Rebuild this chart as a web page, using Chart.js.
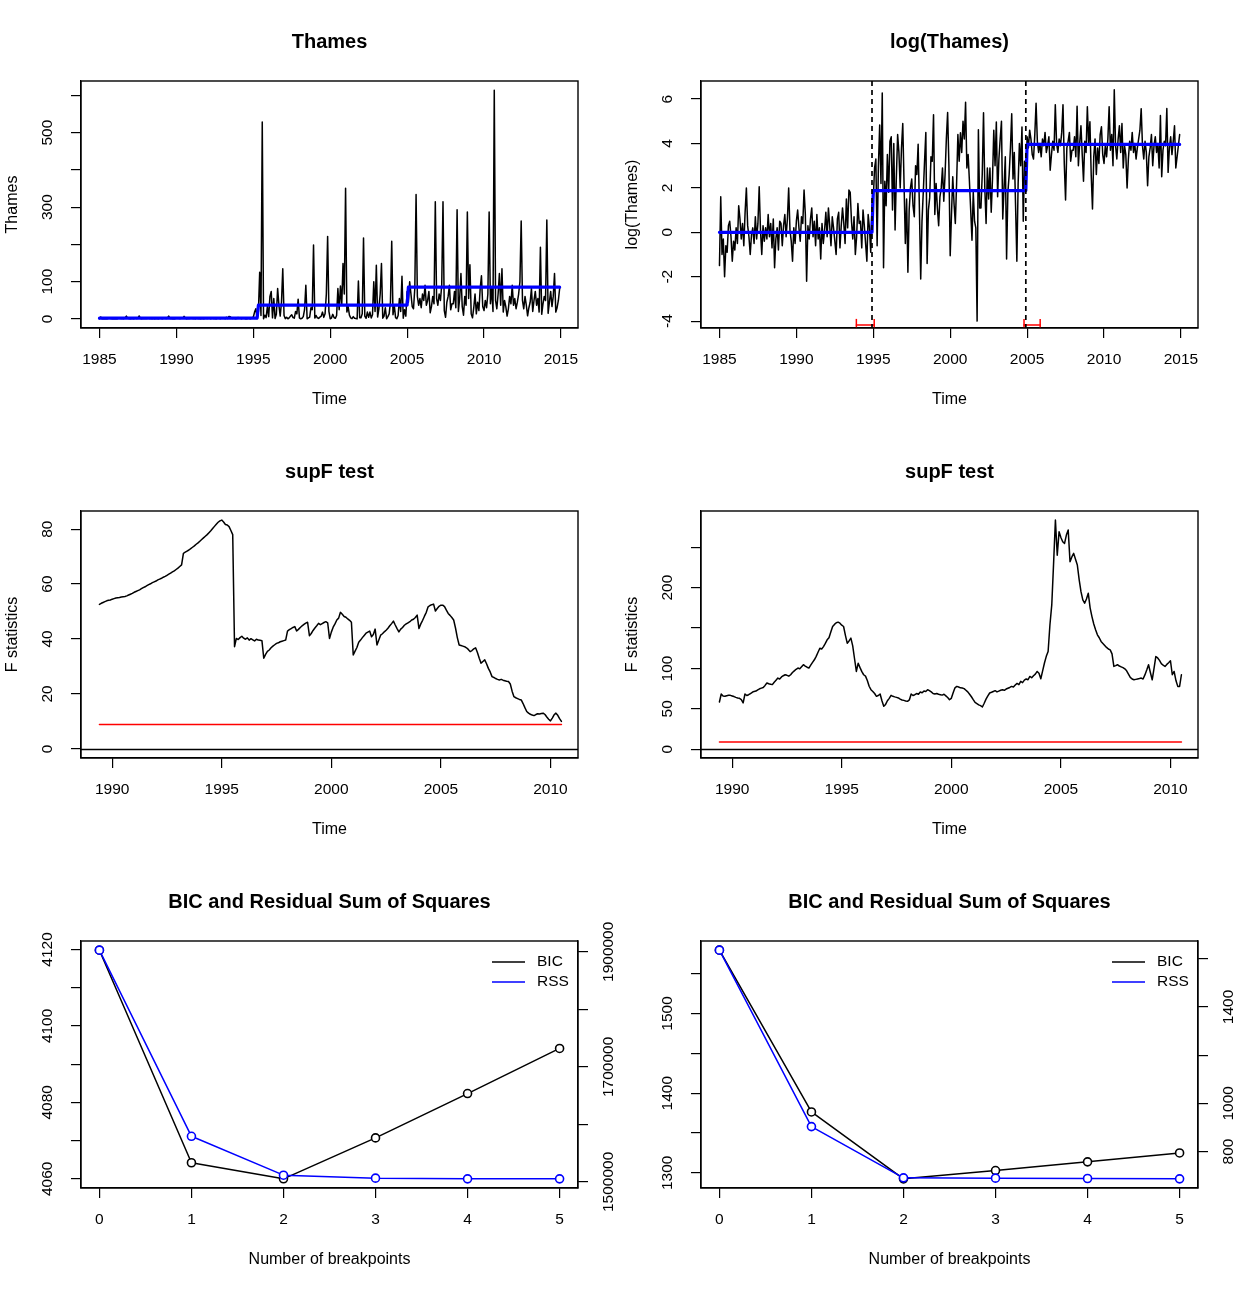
<!DOCTYPE html>
<html><head><meta charset="utf-8">
<script src="https://cdn.jsdelivr.net/npm/chart.js@4.4.1/dist/chart.umd.min.js"></script>
<style>
html,body{margin:0;padding:0;background:#fff;}
#wrap{position:relative;width:1240px;height:1290px;background:#fff;}
canvas{position:absolute;}
</style></head><body><div id="wrap">
<canvas id="c1" width="620" height="430" style="left:0;top:0;width:620px;height:430px"></canvas>
<canvas id="c2" width="620" height="430" style="left:620px;top:0;width:620px;height:430px"></canvas>
<canvas id="c3" width="620" height="430" style="left:0;top:430px;width:620px;height:430px"></canvas>
<canvas id="c4" width="620" height="430" style="left:620px;top:430px;width:620px;height:430px"></canvas>
<canvas id="c5" width="620" height="430" style="left:0;top:860px;width:620px;height:430px"></canvas>
<canvas id="c6" width="620" height="430" style="left:620px;top:860px;width:620px;height:430px"></canvas>
</div>
<script>
// ---------------- DATA ----------------
const seriesStart = 1985; // monthly series, first month
const logThames = [
 -1.5, 1.6,-1.0,-0.3,-2.0,-0.6,-0.9, 0.3, 0.5,-0.2,-1.3,-0.4,
 -0.8, 0.2,-0.5, 1.2, 0.6,-0.3, 0.4,-0.6, 0.9, 2.0, 0.3,-0.2,
 -1.0,-0.1, 0.2,-0.5, 0.7,-0.3, 0.4, 2.05,0.1,-1.0, 0.3,-0.4,
  0.2,-0.3, 0.8,-0.2, 0.4,-0.7, 0.6,-1.6,-0.3, 0.2,-0.8, 0.5,
  0.4,-0.6, 0.3, 0.8,-0.2, 0.6, 2.0, 0.1,-0.4,-1.3, 0.2,-0.5,
  0.5, 1.0, 0.2,-0.4, 0.7, 0.4, 1.9, 0.8,-2.2, 0.3,-0.3, 0.6,
  1.1,-0.2, 0.5,-0.6, 0.8,-0.3, 0.2,-1.2, 0.4,-0.5, 0.1, 0.9,
 -0.2, 1.1, 0.3,-0.6, 0.7, 0.2,-0.4,-1.0, 0.6, 0.9,-0.7, 0.3,
  1.1, 0.4,-0.5, 1.5, 0.2, 1.9, 1.8, 0.5,-0.3, 0.7,-1.0,-0.2,
  1.3, 0.4, 0.5,-0.7, 1.0, 0.3,-0.5,-1.3, 0.8, 0.2,-0.9, 1.2,
  1.5, 2.9, 3.3,-0.6, 3.0, 4.83,2.2, 6.27,-1.6,2.3, 1.2, 3.5,
  1.8, 4.1, 4.3, 1.0, 4.0, 0.1, 2.5, 4.4, 3.6, 2.0, 3.8, 4.9,
  2.2,-0.5, 1.5,-1.8, 1.0, 2.0, 2.4, 1.2, 0.7, 3.0, 2.6, 3.97,
  1.0,-2.1, 0.5, 1.8, 3.2, 4.5,-1.4, 1.0, 1.55,3.4, 3.2, 5.29,
  0.8, 2.2, 1.1, 0.3, 1.6, 2.0, 2.9, 1.4, 2.6, 4.2, 5.4, 3.0,
 -1.06,0.8, 2.5, 1.3, 0.4, 2.2, 4.4, 3.2, 4.48,3.6, 5.0, 4.2,
  5.86,2.9, 3.5, 2.3, 1.0,-0.36,1.8, 0.5, 0.2,-4.0, 4.62,1.1,
  1.1, 2.6, 5.38,2.0, 0.4, 2.9, 1.5, 2.9, 0.9, 2.4, 4.6, 3.0,
  4.97,1.6, 3.3, 4.2, 5.0, 0.6, 2.0, 3.4,-1.2, 1.8, 2.6, 3.8,
  5.34,2.4, 3.6, 1.2,-1.3, 2.2, 4.0, 3.0, 4.74,0.5, 3.2, 2.0,
  4.3, 3.8, 4.6, 4.2, 3.5, 3.3, 4.4, 5.81,4.1, 3.6, 4.0, 3.4,
  4.2, 3.9, 4.5, 3.6, 3.9, 4.3, 2.8, 3.5, 4.1, 3.7, 5.75,4.0,
  3.6, 4.2, 3.9, 4.5, 5.75,3.1, 1.46,3.8, 4.1, 4.5, 3.2, 3.7,
  3.7, 4.3, 3.4, 5.68,3.0, 4.0, 4.8, 3.5, 2.3, 4.1, 3.6, 5.66,
  4.0, 4.98,2.6, 1.05,3.4, 4.2, 2.6, 3.8, 3.1, 4.4, 4.75,3.5,
  3.1, 3.9, 3.4, 4.2, 5.66,3.7, 4.4, 3.0, 6.42,3.9, 3.3, 4.2,
  4.8, 3.6, 4.9, 2.9, 3.9, 3.5, 2.0, 3.3, 4.1, 3.7, 4.5, 3.6,
  4.0, 3.3, 3.8, 4.2, 4.6, 5.57,3.9, 3.3, 4.1, 3.6, 2.1, 3.4,
  3.8, 4.4, 3.0, 3.9, 4.3, 3.6, 4.0, 2.9, 5.26,2.5, 3.7, 4.1,
  3.9, 5.58,2.7, 3.8, 4.3, 3.5, 4.1, 4.8, 2.9, 3.4, 3.9, 4.4
];
const thames = logThames.map(v => Math.exp(v));

const thamesFitLevels = [1.8, 37, 85];
const thamesSegEnds = [123, 240];          // last month index of segments 1 and 2
const logFitLevels = [0.0, 1.88, 3.96];
const logSegEnds = [119, 239];
const logBreakDates = [1994.917, 2004.917];
const logCiLow  = [1993.9, 2004.8];
const logCiHigh = [1995.06, 2005.85];
const logCiLevel = -4.17;

const fStart = 1989.417;  // monthly F statistics
const fThames = [
 52.6,53.0,53.3,53.6,53.9,54.1,54.2,54.5,
 54.7,54.9,55.0,55.1,55.3,55.4,55.5,55.7,56.0,56.3,56.6,57.0,
 57.3,57.6,57.9,58.3,58.7,59.0,59.4,59.8,60.1,60.5,60.8,61.1,
 61.5,61.8,62.1,62.5,62.8,63.2,63.6,64.0,64.4,64.8,65.3,65.8,
 66.4,67.0,71.2,71.6,72.0,72.4,72.9,73.4,73.9,74.5,75.0,75.6,
 76.2,76.8,77.4,78.0,78.7,79.4,80.2,81.0,81.8,82.5,83.0,83.3,
 82.6,81.7,81.5,80.9,79.5,78.0,37.2,40.2,39.8,40.5,41.0,40.3,
 39.9,40.4,39.6,40.1,39.7,39.3,39.9,39.6,39.5,39.4,33.0,34.4,
 35.5,36.0,36.8,37.4,37.9,38.4,38.6,39.0,39.2,39.4,39.6,42.9,
 43.4,43.8,44.2,44.5,42.9,43.5,44.2,44.8,45.3,45.8,46.1,41.2,
 42.0,43.1,44.0,44.8,45.7,45.2,45.6,46.0,46.3,45.9,40.2,42.5,
 44.3,45.5,46.9,47.6,49.7,49.0,48.2,47.9,47.3,46.8,46.1,34.2,
 35.6,36.9,38.8,39.6,40.5,41.3,42.1,42.5,42.9,40.8,41.6,43.6,
 37.8,39.6,41.4,41.9,42.6,43.2,43.9,44.8,45.6,46.5,45.1,43.8,
 42.6,43.6,44.2,45.0,45.5,45.9,46.3,46.9,47.2,47.8,48.7,43.8,
 45.5,46.8,48.3,49.7,51.7,52.2,52.5,52.7,50.2,51.1,51.9,52.3,
 52.3,51.8,50.5,49.3,48.6,47.8,46.9,44.0,40.5,37.8,37.6,37.4,
 37.2,36.8,36.2,35.4,35.8,36.4,36.8,35.1,33.0,31.2,31.8,32.4,
 31.0,29.3,28.0,26.3,26.0,25.6,25.3,25.1,25.3,25.0,24.8,24.6,
 24.5,23.6,21.0,19.0,18.6,18.3,18.0,17.8,16.5,15.0,13.6,13.0,
 12.6,12.3,12.1,12.5,12.8,12.7,12.9,13.0,12.5,11.6,10.8,10.2,
 11.2,12.4,13.0,12.2,11.0,10.0
];
const fLog = [
 58.5,68.4,66.0,65.5,66.2,66.8,66.7,66.0,
 65.2,64.2,63.5,63.0,61.5,57.3,68.4,66.5,67.5,69.0,70.5,71.6,
 72.0,73.5,74.8,75.7,76.5,79.0,82.0,81.0,80.5,80.0,83.0,85.5,
 88.1,87.0,89.5,91.0,92.2,91.5,90.5,92.2,95.0,97.0,99.0,100.5,
 99.5,102.0,104.6,103.0,101.5,100.5,104.0,107.5,110.7,115.0,120.0,125.0,
 124.0,127.0,131.0,135.4,138.0,145.0,151.9,154.5,156.5,157.3,156.0,153.5,
 151.9,141.0,131.3,134.0,137.5,128.0,112.0,96.3,106.5,101.0,96.0,92.2,
 90.5,85.0,78.0,73.7,71.5,69.0,65.5,66.5,68.4,60.0,53.1,55.5,
 60.0,63.0,66.7,65.5,64.8,64.2,63.5,62.0,61.0,60.5,59.8,59.3,
 61.0,68.4,66.5,67.5,69.0,68.0,70.8,70.0,72.0,71.5,73.7,72.5,
 71.0,69.0,68.4,69.0,68.0,67.5,67.0,68.0,66.0,64.0,61.4,63.0,
 70.0,76.0,77.8,77.0,76.0,75.7,75.0,73.0,71.0,68.0,65.0,61.4,
 58.0,56.5,55.0,54.0,52.3,57.0,62.0,66.0,69.6,70.5,71.5,72.5,
 71.0,72.0,73.0,73.7,73.0,74.5,75.5,76.5,77.8,77.0,79.5,81.5,
 80.0,84.0,82.5,85.5,87.0,86.0,90.1,88.5,91.0,93.0,96.3,94.0,
 87.3,97.0,106.7,115.0,121.0,154.0,178.6,230.0,283.6,240.0,269.0,262.0,
 256.8,254.7,265.0,271.2,232.0,238.0,242.4,235.0,228.0,210.0,195.0,184.8,
 180.7,186.0,193.0,175.0,164.2,155.0,148.0,141.6,138.0,133.4,131.0,128.5,
 126.0,124.0,123.0,118.0,102.5,103.5,104.6,103.0,102.0,101.0,99.5,97.0,
 93.0,89.0,87.0,86.0,86.5,87.0,87.5,88.1,87.0,92.0,98.0,104.6,
 95.0,86.0,100.0,114.8,113.0,110.0,106.0,104.0,102.5,105.0,107.0,109.5,
 92.2,96.3,85.0,77.8,77.8,92.2
];
const fCrit = 8.85;

const nBreaks   = [0, 1, 2, 3, 4, 5];
const bicThames = [4119.8, 4064.2, 4060.0, 4070.7, 4082.3, 4094.1];
const rssThames = [1902900, 1579200, 1511600, 1506400, 1505200, 1505200];
const bicLog    = [1579.4, 1376.4, 1292.5, 1302.9, 1313.8, 1325.0];
const rssLog    = [1635.7, 903.4, 690.8, 689.5, 688.0, 686.6];

// tick values and labels
const yearTicksA  = [1985, 1990, 1995, 2000, 2005, 2010, 2015];
const yearLabelsA = ['1985','1990','1995','2000','2005','2010','2015'];
const yearTicksB  = [1990, 1995, 2000, 2005, 2010];
const yearLabelsB = ['1990','1995','2000','2005','2010'];
const thamesTicks  = [0, 100, 200, 300, 400, 500, 600];
const thamesLabels = ['0','100','','300','','500',''];
const logTicks  = [-4, -2, 0, 2, 4, 6];
const logLabels = ['-4','-2','0','2','4','6'];
const fThTicks  = [0, 20, 40, 60, 80];
const fThLabels = ['0','20','40','60','80'];
const fLogTicks  = [0, 50, 100, 150, 200, 250];
const fLogLabels = ['0','50','100','','200',''];
const bicThTicks  = [4060, 4070, 4080, 4090, 4100, 4110, 4120];
const bicThLabels = ['4060','','4080','','4100','','4120'];
const rssThTicks  = [1500000, 1600000, 1700000, 1800000, 1900000];
const rssThLabels = ['1500000','','1700000','','1900000'];
const bicLgTicks  = [1300, 1350, 1400, 1450, 1500, 1550];
const bicLgLabels = ['1300','','1400','','1500',''];
const rssLgTicks  = [800, 1000, 1200, 1400, 1600];
const rssLgLabels = ['800','1000','','1400',''];
const bpTicks  = [0, 1, 2, 3, 4, 5];
const bpLabels = ['0','1','2','3','4','5'];

// ---------------- HELPERS ----------------
const FONT = "'Liberation Sans', Arial, Helvetica, sans-serif";
const TICK_SIZE = 15.5, LAB_SIZE = 16;
Chart.defaults.font.family = FONT;
Chart.defaults.color = '#000';

const mctx = document.createElement('canvas').getContext('2d');
function widest(labels) {
  mctx.font = TICK_SIZE + 'px ' + FONT;
  return Math.max(...labels.map(l => mctx.measureText(l).width));
}
function monthTimes(start, n) { return Array.from({length: n}, (_, i) => start + i / 12); }
function pts(xs, ys) { return ys.map((y, i) => ({x: xs[i], y})); }
function stepFit(xs, levels, ends) {
  return xs.map((x, i) => ({x, y: levels[i <= ends[0] ? 0 : (i <= ends[1] ? 1 : 2)]}));
}

const gridOpts = {display: true, drawOnChartArea: false, drawTicks: true, tickLength: 10, color: '#000', lineWidth: 1.2};
const borderOpts = {display: true, color: '#000', width: 1.2};

function xScale(min, max, ticks, labels, title) {
  return {
    type: 'linear', position: 'bottom', min, max,
    afterBuildTicks: s => { s.ticks = ticks.map(v => ({value: v})); },
    afterFit: s => { s.height = 102; },
    ticks: {autoSkip: false, minRotation: 0, maxRotation: 0, padding: 12.5,
      color: '#000', font: {size: TICK_SIZE}, callback: (v, i) => labels[i]},
    grid: gridOpts, border: borderOpts,
    title: {display: true, text: title, color: '#000', font: {size: LAB_SIZE}, padding: {top: 0, bottom: 20.6}}
  };
}
function yScale(pos, min, max, ticks, labels, title) {
  const off = pos === 'left' ? 33.5 : 31;
  return {
    type: 'linear', position: pos, min, max,
    afterBuildTicks: s => { s.ticks = ticks.map(v => ({value: v})); },
    afterFit: s => { s.width = pos === 'left' ? 81 : 42; },
    ticks: {autoSkip: false, minRotation: 90, maxRotation: 90, crossAlign: 'center',
      padding: off - 10 - widest(labels) / 2,
      color: '#000', font: {size: TICK_SIZE}, callback: (v, i) => labels[i]},
    grid: Object.assign({}, gridOpts), border: borderOpts,
    title: {display: !!title, text: title || '', color: '#000', font: {size: LAB_SIZE}, padding: {top: 3.2, bottom: 0}}
  };
}

const panelPlugin = {
  id: 'panel',
  afterDatasetsDraw(chart, args, o) {
    const {ctx, chartArea: a, scales} = chart;
    ctx.save();
    ctx.beginPath(); ctx.rect(a.left, a.top, a.right - a.left, a.bottom - a.top); ctx.clip();
    ctx.strokeStyle = '#000'; ctx.lineWidth = 1.4;
    (o.hlines || []).forEach(v => {
      const y = Math.round(scales.y.getPixelForValue(v)) + 0.5;
      ctx.beginPath(); ctx.moveTo(a.left, y); ctx.lineTo(a.right, y); ctx.stroke();
    });
    (o.vlines || []).forEach(v => {
      const x = scales.x.getPixelForValue(v);
      ctx.setLineDash([5, 4]); ctx.lineWidth = 1.7;
      ctx.beginPath(); ctx.moveTo(x, a.top); ctx.lineTo(x, a.bottom); ctx.stroke();
      ctx.setLineDash([]);
    });
    ctx.restore();
    ctx.save();
    ctx.strokeStyle = '#000'; ctx.lineWidth = 1.4;
    ctx.strokeRect(a.left, a.top, a.right - a.left, a.bottom - a.top);
    if (o.legend) {
      ctx.font = TICK_SIZE + 'px ' + FONT; ctx.textBaseline = 'middle'; ctx.textAlign = 'left';
      o.legend.forEach((it, k) => {
        const y = a.top + 21 + k * 20;
        ctx.strokeStyle = it.color; ctx.lineWidth = 1.5;
        ctx.beginPath(); ctx.moveTo(a.right - 86, y); ctx.lineTo(a.right - 53, y); ctx.stroke();
        ctx.fillStyle = '#000'; ctx.fillText(it.text, a.right - 41, y);
      });
    }
    ctx.restore();
  }
};

function titleOpts(text) {
  return {display: true, text, fullSize: false, color: '#000',
    font: {size: 20, weight: 'bold'}, padding: {top: 30, bottom: 27}};
}
function lineDs(data, color, width, extra) {
  return Object.assign({type: 'line', data, borderColor: color, borderWidth: width, pointRadius: 0,
    fill: false, tension: 0, borderJoinStyle: 'round', borderCapStyle: 'round'}, extra || {});
}
function make(id, datasets, scales, title, panel, padRight) {
  return new Chart(document.getElementById(id), {
    type: 'line',
    data: {datasets},
    options: {
      responsive: false, animation: false, devicePixelRatio: 1, events: [],
      layout: {padding: {left: 0, top: 0, right: padRight, bottom: 0}},
      scales,
      plugins: {legend: {display: false}, tooltip: {enabled: false}, title: titleOpts(title), panel}
    },
    plugins: [panelPlugin]
  });
}

// ---------------- PANELS ----------------
const tMonths = monthTimes(seriesStart, logThames.length);
const tF = monthTimes(fStart, fThames.length);
const ciStyle = {order: 0, pointRadius: 6, pointStyle: 'line', pointRotation: 90,
  pointBorderColor: '#ff0000', pointBorderWidth: 1.5};

// 1: Thames
make('c1', [
  lineDs(stepFit(tMonths, thamesFitLevels, thamesSegEnds), '#0000ff', 3.2, {order: 1}),
  lineDs(pts(tMonths, thames), '#000', 1.5, {order: 2})
], {
  x: xScale(1983.80, 2016.11, yearTicksA, yearLabelsA, 'Time'),
  y: yScale('left', -24.5, 638.5, thamesTicks, thamesLabels, 'Thames')
}, 'Thames', {}, 42);

// 2: log(Thames)
make('c2', [
  ...logCiLow.map((lo, k) => lineDs([{x: lo, y: logCiLevel}, {x: logCiHigh[k], y: logCiLevel}], '#ff0000', 1.5, ciStyle)),
  lineDs(stepFit(tMonths, logFitLevels, logSegEnds), '#0000ff', 3.2, {order: 1}),
  lineDs(pts(tMonths, logThames), '#000', 1.5, {order: 2})
], {
  x: xScale(1983.80, 2016.11, yearTicksA, yearLabelsA, 'Time'),
  y: yScale('left', -4.31, 6.815, logTicks, logLabels, 'log(Thames)')
}, 'log(Thames)', {vlines: logBreakDates}, 42);

// 3: supF test (Thames)
make('c3', [
  lineDs([{x: tF[0], y: fCrit}, {x: tF[tF.length - 1], y: fCrit}], '#ff0000', 1.5, {order: 1}),
  lineDs(pts(tF, fThames), '#000', 1.5, {order: 2})
], {
  x: xScale(1988.577, 2011.257, yearTicksB, yearLabelsB, 'Time'),
  y: yScale('left', -3.33, 86.6, fThTicks, fThLabels, 'F statistics')
}, 'supF test', {hlines: [0]}, 42);

// 4: supF test (log)
make('c4', [
  lineDs([{x: tF[0], y: fCrit}, {x: tF[tF.length - 1], y: fCrit}], '#ff0000', 1.5, {order: 1}),
  lineDs(pts(tF, fLog), '#000', 1.5, {order: 2})
], {
  x: xScale(1988.577, 2011.257, yearTicksB, yearLabelsB, 'Time'),
  y: yScale('left', -10.8, 294.8, fLogTicks, fLogLabels, 'F statistics')
}, 'supF test', {hlines: [0]}, 42);

// 5 & 6: BIC and RSS
function bicRss(id, bic, rss, lmin, lmax, lt, ll, rmin, rmax, rt, rl) {
  const pt = c => ({pointRadius: 4, pointBorderWidth: 1.6, pointBorderColor: c, pointBackgroundColor: '#fff', pointStyle: 'circle'});
  make(id, [
    lineDs(pts(nBreaks, rss), '#0000ff', 1.5, Object.assign({yAxisID: 'y2', order: 1}, pt('#0000ff'))),
    lineDs(pts(nBreaks, bic), '#000', 1.5, Object.assign({yAxisID: 'y', order: 2}, pt('#000')))
  ], {
    x: xScale(-0.2, 5.2, bpTicks, bpLabels, 'Number of breakpoints'),
    y: yScale('left', lmin, lmax, lt, ll, ''),
    y2: yScale('right', rmin, rmax, rt, rl, '')
  }, 'BIC and Residual Sum of Squares', {legend: [{text: 'BIC', color: '#000'}, {text: 'RSS', color: '#0000ff'}]}, 0);
}
bicRss('c5', bicThames, rssThames, 4057.6, 4122.2, bicThTicks, bicThLabels, 1489300, 1918800, rssThTicks, rssThLabels);
bicRss('c6', bicLog, rssLog, 1281.0, 1590.9, bicLgTicks, bicLgLabels, 648.6, 1673.7, rssLgTicks, rssLgLabels);
</script>
</body></html>
